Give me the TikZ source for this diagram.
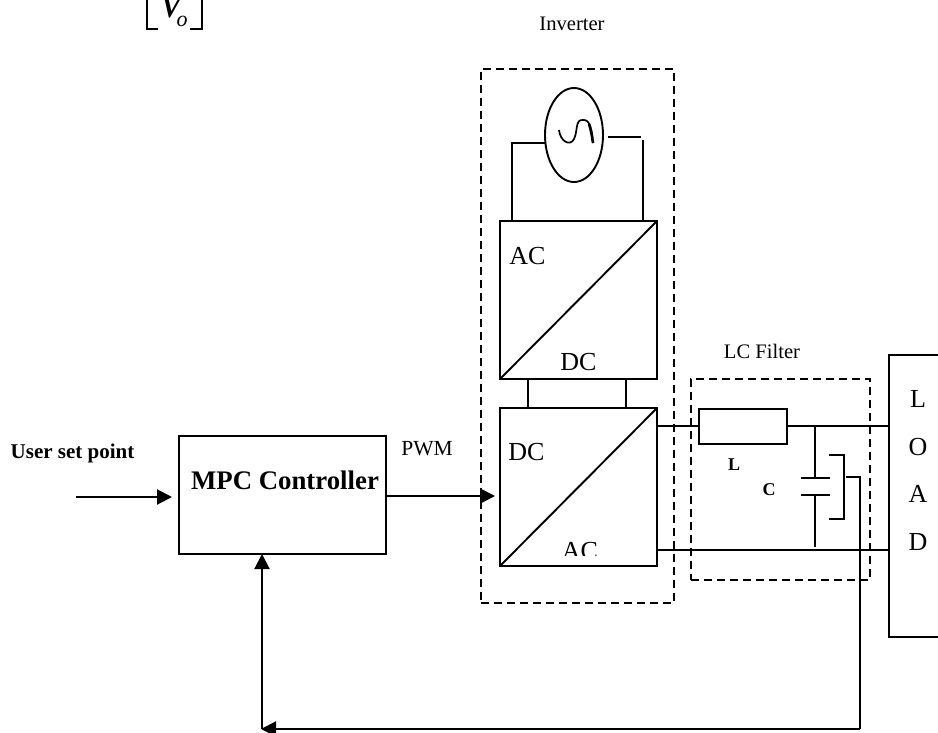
\documentclass[tikz,border=0pt]{standalone}
\usepackage{fontspec}
\setmainfont{Liberation Serif}
\usetikzlibrary{arrows.meta,shapes.geometric}
\tikzset{
  wire/.style={line width=1.9pt},
  thickwire/.style={line width=2.3pt},
  dashbox/.style={draw,line width=1.9pt,dash pattern=on 8pt off 5pt,anchor=north west,inner sep=0pt,outer sep=0pt},
  block/.style={draw,line width=2.1pt,anchor=north west,inner sep=0pt,outer sep=0pt},
  flow/.style={line width=2.1pt,-{Triangle[length=15pt,width=15pt]}},
  big/.style={font=\fontsize{26}{26}\selectfont,inner sep=0pt},
  mid/.style={font=\fontsize{20.6}{20.6}\selectfont,inner sep=0pt},
  tiny/.style={font=\fontsize{18}{18}\bfseries\selectfont,inner sep=0pt}
}
\begin{document}
\begin{tikzpicture}[x=1pt,y=-1pt]
\useasboundingbox (0,0) rectangle (938,732);
% dashed frames
\node[dashbox,minimum width=193pt,minimum height=534pt] (inv) at (481,69) {};
\node[dashbox,minimum width=179pt,minimum height=201pt] (flt) at (691,379) {};
% source
\node[draw,ellipse,line width=1.9pt,minimum width=58pt,minimum height=94pt,inner sep=0pt,outer sep=0pt] (src) at (574,135) {};
\draw[line width=1.7pt] (559,130) .. controls (560,141) and (570,147) .. (574,139) .. controls (578,131) and (575,119) .. (583,120) .. controls (590,119) and (592,130) .. (593,143);
\draw[line width=2.6pt] (589,124) .. controls (591,130) and (592,136) .. (593,143);
% converters
\node[block,minimum width=157pt,minimum height=158pt] (up) at (500,221) {};
\node[block,minimum width=157pt,minimum height=158pt] (lo) at (500,408) {};
\draw[wire] (up.south west) -- (up.north east);
\draw[wire] (lo.south west) -- (lo.north east);
\coordinate (sl) at (512,143);
\coordinate (srA) at (608,137);
\coordinate (srB) at (641,137);
\draw[thickwire] (src.west |- sl) -- (sl) -- (sl |- up.north);
\draw[wire] (srA) -- (srB);
\draw[wire] (643,140) -- (643,221);
\coordinate (ca) at (528,379);
\coordinate (cb) at (626,379);
\draw[wire] (ca) -- (ca |- lo.north);
\draw[wire] (cb) -- (cb |- lo.north);
% labels in converters
\node[big] (t1) at (527.5,256) {AC};
\node[big] (t2) at (578.5,362) {DC};
\node[big] (t3) at (526.5,452) {DC};
\begin{scope}
\clip (550,530) rectangle (610,555);
\node[big] (t4) at (580,551) {AC};
\end{scope}
% controller
\node[block,minimum width=207pt,minimum height=118pt] (mpc) at (179,436) {};
\node[font=\fontsize{26.8}{26.8}\bfseries\selectfont,inner sep=0pt] (mpct) at (285,480) {MPC Controller};
\coordinate (usr) at (76,497);
\node[font=\fontsize{21}{21}\bfseries\selectfont,inner sep=0pt] (ust) at (72.5,453) {User set point};
\node[font=\fontsize{21.5}{21.5}\selectfont,inner sep=0pt] (pwm) at (427,449) {PWM};
\draw[flow] (usr) -- (172,497);
\draw[flow] (mpc.east |- 0,496) -- (495,496);
% filter
\node[block,minimum width=88pt,minimum height=35pt] (ind) at (699,409) {};
\node[block,minimum width=60pt,minimum height=282pt] (load) at (889,355) {};
\coordinate (capN) at (815,426);
\coordinate (capS) at (815,547);
\draw[wire] (lo.east |- 0,426) -- (ind.west |- 0,426);
\draw[wire] (ind.east |- 0,426) -- (load.west |- 0,426);
\draw[wire] (capN) -- (815,478);
\draw[wire] (815,495) -- (capS);
\draw[wire] (801,478) -- (830,478);
\draw[wire] (801,495) -- (830,495);
\draw[thickwire] (lo.east |- 0,550) -- (load.west |- 0,550);
\draw[wire] (829,455) -- (844,455) -- (844,519) -- (829,519);
\node[tiny] (lbL) at (734,465) {L};
\node[tiny] (lbC) at (769,490) {C};
\node[mid] (lf) at (762,351) {LC Filter};
\node[mid] (it) at (572,24) {Inverter};
\foreach \c/\y in {L/399,O/447,A/494,D/542} \node[big] (load\c) at (918,\y) {\c};
% feedback
\coordinate (fa) at (846,477);
\coordinate (fb) at (860,477);
\coordinate (fc) at (860,729);
\coordinate (fd) at (262,729);
\draw[wire] (fa) -- (fb) -- (fc);
\draw[flow,shorten >=-1pt] (fc) -- (fd);
\draw[flow] (fd) -- (mpc.south -| fd);
% vector fragment
\draw[line width=1.7pt] (147,-5) -- (147,29) -- (158,29);
\draw[line width=1.7pt] (190,29) -- (202,29) -- (202,-5);
\node[font=\fontsize{42}{42}\itshape\selectfont,inner sep=0pt,anchor=base] (vv) at (171,17) {V};
\node[font=\fontsize{22}{22}\itshape\selectfont,inner sep=0pt,anchor=base] (vo) at (182,26) {o};
\end{tikzpicture}
\end{document}
